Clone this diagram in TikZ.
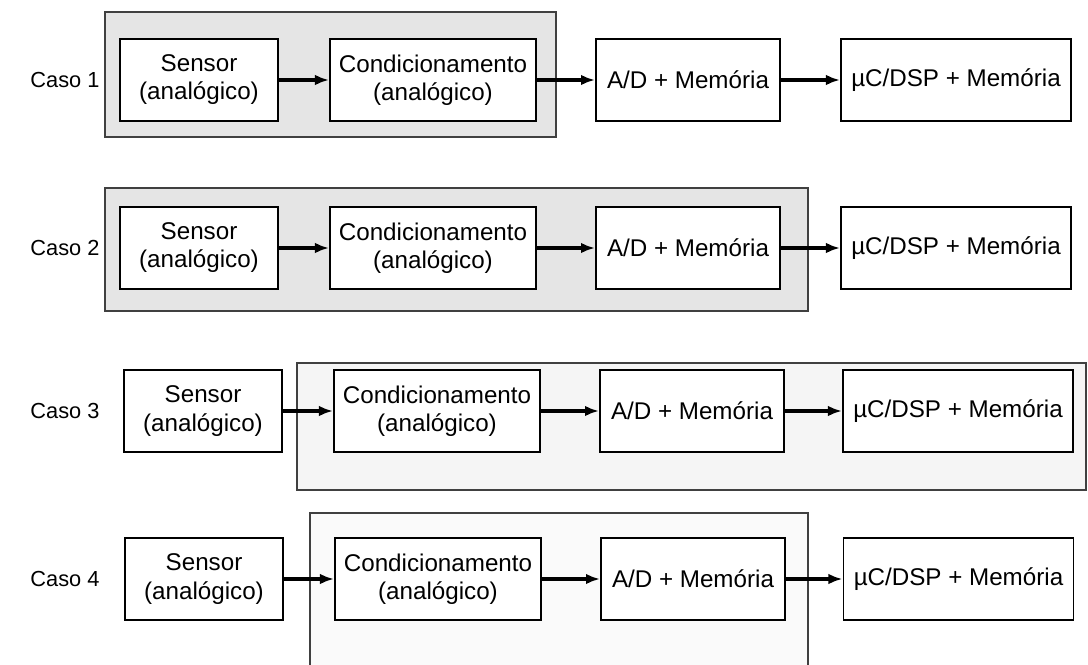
\documentclass[tikz,border=0pt]{standalone}
\usepackage{fontspec}
\setmainfont{Liberation Sans}
\usepackage{tikz}
\usetikzlibrary{arrows.meta}

\begin{document}
\begin{tikzpicture}[
        x=0.025cm, y=-0.025cm,
        blk/.style={draw, line width=1.3pt, fill=white, minimum height=2.05cm,
            inner sep=0pt, align=center},
        flow/.style={line width=2.2pt, -{Latex[length=10pt,width=7.5pt]}},
        grp/.style={draw=black!75, line width=1pt}
    ]
    \useasboundingbox (0,0) rectangle (1088,665);
    \begin{scope}[font=\fontsize{17.2}{20}\selectfont]
    % Groups:
    % The shaded frames are drawn first, so that the blocks lie on top:
    \draw[grp, fill=black!10] (105,12) rectangle (556,137);
    \draw[grp, fill=black!10] (105,188) rectangle (808,311);
    \draw[grp, fill=black!4] (297,363) rectangle (1086,490);
    % the last frame runs off the bottom of the page
    \fill[black!2] (310,665) rectangle (808,513);
    \draw[grp] (310,665) -- (310,513) -- (808,513) -- (808,665);

    % Blocks and arrows, one row per case:
    \foreach \r/\yy/\dx in {1/80/0, 2/248/0, 3/411/4, 4/579/5}
    {
    \node[font=\fontsize{15.5}{18}\selectfont] (caso\r) at (65,\yy) {Caso \r};
    \node[blk, minimum width=3.95cm] (sen\r) at (199+\dx,\yy)
        {Sensor\\(analógico)};
    \node[blk, minimum width=5.15cm] (cond\r) at (433+\dx,\yy)
        {Condicionamento\\(analógico)};
    \node[blk, minimum width=4.6cm] (ad\r) at (688+\dx,\yy)
        {A/D + Memória};
    \node[blk, minimum width=5.75cm] (uc\r) at (956+\dx/2,\yy)
        {µC/DSP + Memória};
    \draw[flow] (sen\r) -- (cond\r);
    \draw[flow] (cond\r) -- (ad\r);
    \draw[flow] (ad\r) -- (uc\r);
    }
    \end{scope}
\end{tikzpicture}
\end{document}
